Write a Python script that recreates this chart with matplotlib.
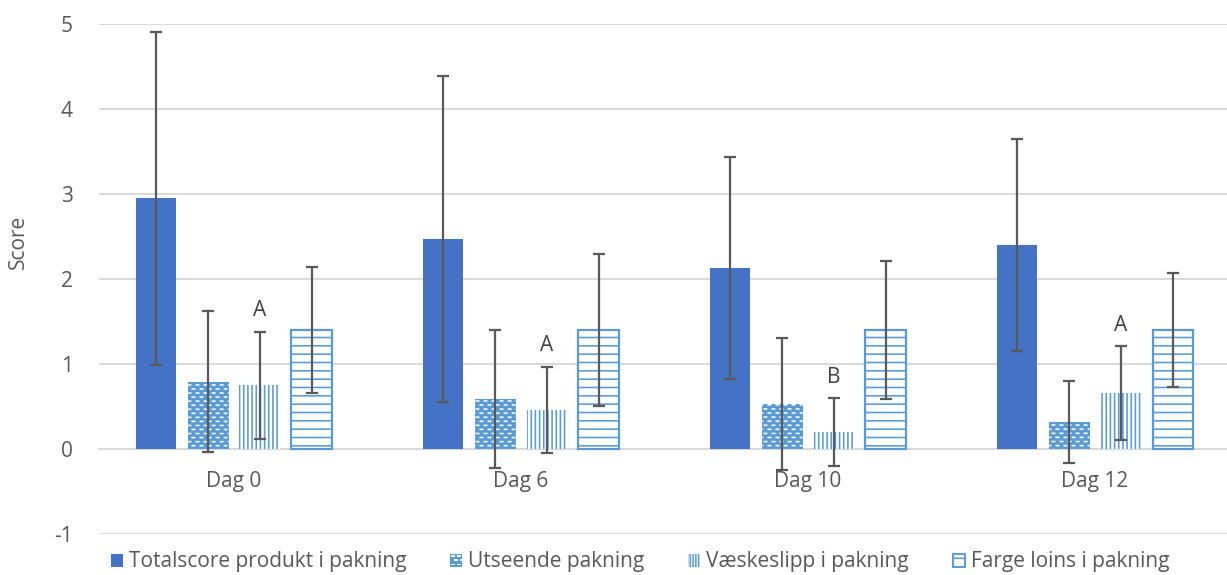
import numpy as np
import matplotlib
matplotlib.use("Agg")
import matplotlib.pyplot as plt
from matplotlib.patches import Rectangle, Patch
from matplotlib.legend_handler import HandlerBase

# ---- data -------------------------------------------------------------
categories = ["Dag 0", "Dag 6", "Dag 10", "Dag 12"]

totalscore = [2.95, 2.47, 2.13, 2.40]
totalscore_sd = [1.96, 1.92, 1.31, 1.25]

utseende = [0.79, 0.59, 0.53, 0.32]
utseende_sd = [0.83, 0.81, 0.78, 0.48]

vaeskeslipp = [0.75, 0.46, 0.20, 0.66]
vaeskeslipp_sd = [0.63, 0.51, 0.40, 0.55]

farge = [1.40, 1.40, 1.40, 1.40]
farge_sd = [0.745, 0.89, 0.815, 0.675]

vaeskeslipp_letters = ["A", "A", "B", "A"]

series_labels = ["Totalscore produkt i pakning", "Utseende pakning",
                 "Væskeslipp i pakning", "Farge loins i pakning"]
y_ticks = [-1, 0, 1, 2, 3, 4, 5]

# ---- style ------------------------------------------------------------
DARK_BLUE = "#4472C4"
LIGHT_BLUE = "#5B9BD5"
GRID = "#D9D9D9"
TEXT = "#595959"
ERR = "#595959"
FS = 15

plt.rcParams["font.family"] = ["Open Sans", "DejaVu Sans"]
plt.rcParams["axes.unicode_minus"] = False
plt.rcParams["hatch.linewidth"] = 1.15

W, H = 1227, 575
fig = plt.figure(figsize=(W / 100, H / 100), dpi=100)
ax_left, ax_right, ax_top, ax_bottom = 99, 1227, 24, 534
ax = fig.add_axes([ax_left / W, 1 - ax_bottom / H,
                   (ax_right - ax_left) / W, (ax_bottom - ax_top) / H])

x = np.arange(len(categories))
bw = 0.142
step = 0.181
offsets = [-1.5 * step, -0.5 * step, 0.5 * step, 1.5 * step]

err_kw = dict(fmt="none", ecolor=ERR, elinewidth=1.6, capsize=4.5,
              capthick=1.6, zorder=6)

# Totalscore: solid bars
b_tot = ax.bar(x + offsets[0], totalscore, bw, color=DARK_BLUE, zorder=3)

# Utseende: blue bars with a staggered white-dash texture
b_uts = ax.bar(x + offsets[1], utseende, bw, color=LIGHT_BLUE, zorder=3)

# Væskeslipp: fine vertical lines on white
b_vae = ax.bar(x + offsets[2], vaeskeslipp, bw, facecolor="white",
               edgecolor=LIGHT_BLUE, linewidth=0, hatch="||||", zorder=3)

# Farge: outlined bars with horizontal lines
b_far = ax.bar(x + offsets[3], farge, bw, facecolor="white",
               edgecolor=LIGHT_BLUE, linewidth=1.6, hatch="--", zorder=3)

# dash texture covering the axes (2 samples per screen pixel)
ph, pw = 2 * (ax_bottom - ax_top), 2 * (ax_right - ax_left)
tex = np.empty((ph, pw, 3))
tex[:] = np.array([0x5B, 0x9B, 0xD5]) / 255.0
yy, xx = np.mgrid[0:ph, 0:pw]
row = yy % 16
col = xx % 16
dash_a = (row >= 2) & (row < 5) & (col < 8)
dash_b = (row >= 10) & (row < 13) & (col >= 8)
tex[dash_a | dash_b] = 1.0
for bar in b_uts:
    im = ax.imshow(tex, extent=(0, 1, 0, 1), transform=ax.transAxes,
                   aspect="auto", interpolation="antialiased", zorder=3.5)
    im.set_clip_path(bar)

# error bars
ax.errorbar(x + offsets[0], totalscore, yerr=totalscore_sd, **err_kw)
ax.errorbar(x + offsets[1], utseende, yerr=utseende_sd, **err_kw)
ax.errorbar(x + offsets[2], vaeskeslipp, yerr=vaeskeslipp_sd, **err_kw)
ax.errorbar(x + offsets[3], farge, yerr=farge_sd, **err_kw)

# significance letters above the Væskeslipp error bars
for xi, v, sd, letter in zip(x + offsets[2], vaeskeslipp, vaeskeslipp_sd,
                             vaeskeslipp_letters):
    ax.annotate(letter, (xi, v + sd), xytext=(0, 11),
                textcoords="offset points", ha="center", va="baseline",
                fontsize=FS, color="#404040")

# axes
ax.set_ylim(-1, 5)
ax.set_xlim(-0.470, 3.460)
ax.set_yticks(y_ticks)
ax.set_yticklabels([str(t) for t in y_ticks])
ax.yaxis.grid(True, color=GRID, linewidth=1.4, zorder=0)
ax.set_axisbelow(True)
for s in ["top", "right", "left"]:
    ax.spines[s].set_visible(False)
ax.spines["bottom"].set_position(("data", 0))
ax.spines["bottom"].set_color(GRID)
ax.spines["bottom"].set_linewidth(1.4)
ax.set_xticks(x)
ax.set_xticklabels(categories)
ax.tick_params(axis="x", length=0, pad=16, labelsize=FS, labelcolor=TEXT)
ax.tick_params(axis="y", length=0, pad=19, labelsize=FS, labelcolor=TEXT)

fig.text(18 / W, 1 - 242 / H, "Score", rotation=90, ha="center",
         va="center", fontsize=FS, color=TEXT)


# legend
class DashHandler(HandlerBase):
    def create_artists(self, legend, orig_handle, xdescent, ydescent,
                       width, height, fontsize, trans):
        x0, y0 = -xdescent, -ydescent
        arts = [Rectangle((x0, y0), width, height, facecolor=LIGHT_BLUE,
                          edgecolor="none", transform=trans)]
        dw, dh = width * 0.32, height * 0.13
        for r in range(3):
            yc = y0 + height * (r + 0.5) / 3 - dh / 2
            starts = [0.05, 0.55] if r % 2 == 0 else [0.30, 0.80]
            for s in starts:
                w = min(dw, width * (1 - s))
                arts.append(Rectangle((x0 + width * s, yc), w, dh,
                                      facecolor="white", edgecolor="none",
                                      transform=trans))
        return arts


h_tot = Patch(facecolor=DARK_BLUE, label=series_labels[0])
h_uts = Patch(facecolor=LIGHT_BLUE, label=series_labels[1])
h_vae = Patch(facecolor="white", edgecolor=LIGHT_BLUE, linewidth=0,
              hatch="||||||", label=series_labels[2])
h_far = Patch(facecolor="white", edgecolor=LIGHT_BLUE, linewidth=1.4,
              hatch="-", label=series_labels[3])
leg = fig.legend(handles=[h_tot, h_uts, h_vae, h_far], loc="center",
                 bbox_to_anchor=(640 / W, 1 - 562 / H), ncol=4,
                 frameon=False, fontsize=FS, handlelength=0.58,
                 handleheight=0.58, handletextpad=0.29, columnspacing=2.1,
                 handler_map={h_uts: DashHandler()})
for t in leg.get_texts():
    t.set_color(TEXT)

fig.savefig("out.png", dpi=100)
